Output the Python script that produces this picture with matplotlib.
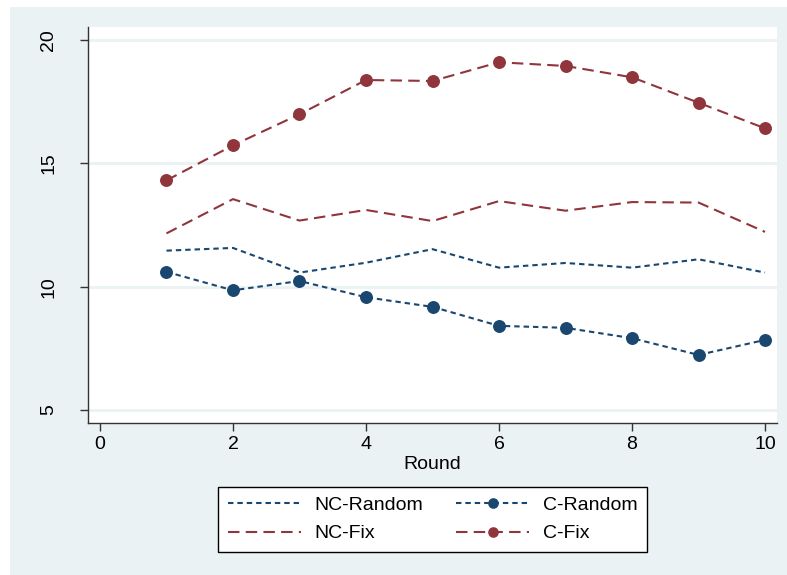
import matplotlib
matplotlib.use('Agg')
import matplotlib.pyplot as plt
from matplotlib.patches import Rectangle

plt.rcParams['font.family'] = ['Liberation Sans', 'DejaVu Sans']

rounds = [1, 2, 3, 4, 5, 6, 7, 8, 9, 10]
nc_random = [11.46, 11.57, 10.57, 10.97, 11.52, 10.77, 10.96, 10.77, 11.11, 10.57]
c_random = [10.60, 9.85, 10.23, 9.57, 9.18, 8.41, 8.33, 7.91, 7.23, 7.84]
nc_fix = [12.16, 13.55, 12.68, 13.11, 12.66, 13.47, 13.08, 13.43, 13.41, 12.22]
c_fix = [14.31, 15.73, 16.99, 18.38, 18.34, 19.10, 18.95, 18.49, 17.46, 16.42]

navy = '#1A476F'
maroon = '#90353B'
bg = '#EAF2F3'

fig = plt.figure(figsize=(7.87, 5.75), dpi=100)
fig.patch.set_facecolor('white')
# stata style outer region, kept behind the axes
bgrect = Rectangle((10/787, 0), 1, 1 - 7/575, transform=fig.transFigure,
                   facecolor=bg, edgecolor='none', zorder=-10)
fig.patches.append(bgrect)

ax = fig.add_axes([88/787, 1 - 423/575, (777 - 88)/787, (423 - 27)/575])
ax.set_facecolor('white')
ax.set_zorder(1)

short_dash = (0, (2.6, 1.9))
long_dash = (0, (5.5, 3.0))

l1, = ax.plot(rounds, nc_random, color=navy, lw=1.5, linestyle=short_dash)
l2, = ax.plot(rounds, c_random, color=navy, lw=1.5, linestyle=short_dash,
              marker='o', markersize=8.3)
l3, = ax.plot(rounds, nc_fix, color=maroon, lw=1.5, linestyle=long_dash)
l4, = ax.plot(rounds, c_fix, color=maroon, lw=1.5, linestyle=long_dash,
              marker='o', markersize=8.3)

ax.set_xlim(-0.18, 10.18)
ax.set_ylim(4.47, 20.53)
ax.set_xticks([0, 2, 4, 6, 8, 10])
ax.set_yticks([5, 10, 15, 20])
ax.yaxis.grid(True, color=bg, lw=2)
ax.set_axisbelow(True)
ax.tick_params(axis='both', labelsize=14, length=6, width=1, color='#333333')
ax.tick_params(axis='y', pad=16)
plt.setp(ax.get_yticklabels(), rotation=90, va='center')
ax.set_xlabel('Round', fontsize=14, labelpad=2)

for s in ['top', 'right']:
    ax.spines[s].set_visible(False)
for s in ['left', 'bottom']:
    ax.spines[s].set_color('#333333')
    ax.spines[s].set_linewidth(1)

leg = fig.legend([l1, l3, l2, l4], ['NC-Random', 'NC-Fix', 'C-Random', 'C-Fix'],
                 ncol=2, loc='center', bbox_to_anchor=(432.5/787, 1 - 519.5/575),
                 fontsize=14, handlelength=3.75, handletextpad=0.7,
                 frameon=True, fancybox=False,
                 edgecolor='black', framealpha=1, columnspacing=1.7,
                 borderpad=0.5, labelspacing=0.55, markerscale=0.8)
leg.get_frame().set_linewidth(1)

fig.savefig('out.png', dpi=100, facecolor=fig.get_facecolor())
